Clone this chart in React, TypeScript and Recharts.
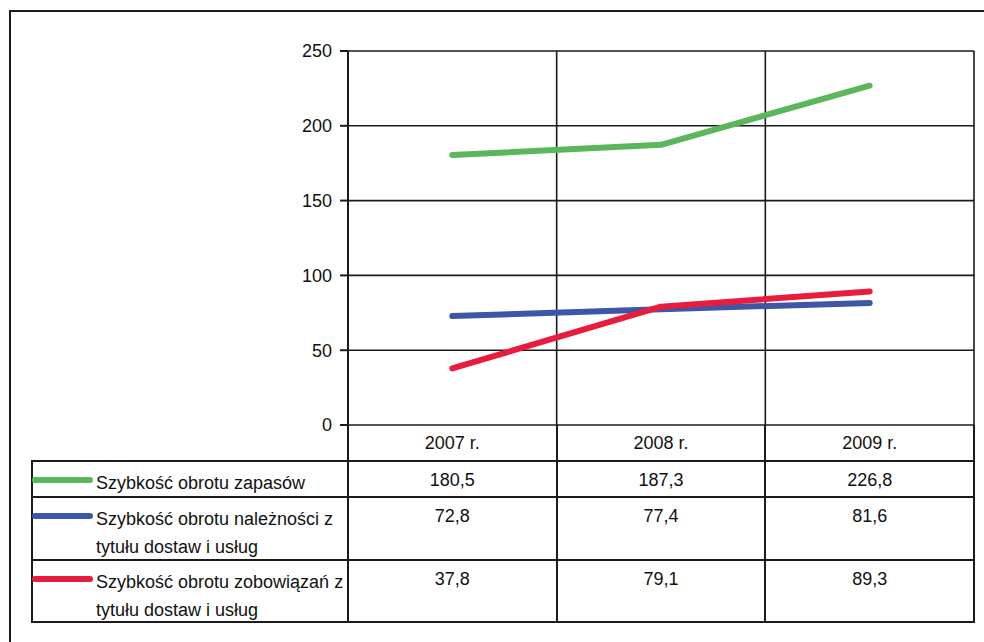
import { LineChart, Line, XAxis, YAxis, CartesianGrid } from "recharts";

const years = ["2007 r.", "2008 r.", "2009 r."];
const zapasy = [180.5, 187.3, 226.8];
const naleznosci = [72.8, 77.4, 81.6];
const zobowiazania = [37.8, 79.1, 89.3];
const yTicks = [0, 50, 100, 150, 200, 250];

const series = [
  { key: "zapasy", lines: ["Szybkość obrotu zapasów"], values: zapasy, color: "#5bb75a" },
  {
    key: "naleznosci",
    lines: ["Szybkość obrotu należności z", "tytułu dostaw i usług"],
    values: naleznosci,
    color: "#3d56a6",
  },
  {
    key: "zobowiazania",
    lines: ["Szybkość obrotu zobowiązań z", "tytułu dostaw i usług"],
    values: zobowiazania,
    color: "#e81c3c",
  },
];

const data = years.map((year, i) => {
  const row: Record<string, string | number> = { year };
  series.forEach((s) => (row[s.key] = s.values[i]));
  return row;
});

// layout
const W = 984;
const H = 642;
const PLOT_L = 348;
const PLOT_R = 974;
const PLOT_T = 51;
const PLOT_B = 425;
const BAND = (PLOT_R - PLOT_L) / years.length;
const TABLE_L = 31;
const HEAD_B = 461;
const ROW_BOTTOMS = [497, 560, 622];
const INK = "#1b1b1b";
const FONT = "'Liberation Sans Narrow', 'Liberation Sans', Arial, sans-serif";

const fmt = (v: number) => v.toFixed(1).replace(".", ",");

const box = (left: number, top: number, width: number, height: number) => ({
  position: "absolute" as const,
  left,
  top,
  width,
  height,
  boxSizing: "border-box" as const,
});

export default function App() {
  const colX = years.map((_, i) => PLOT_L + i * BAND);
  const rowTops = [HEAD_B, ...ROW_BOTTOMS.slice(0, -1)];

  return (
    <div
      style={{
        position: "absolute",
        left: 0,
        top: 0,
        width: W,
        height: H,
        overflow: "hidden",
        background: "#fff",
        fontFamily: FONT,
        color: "#111",
      }}
    >
      {/* outer frame of the scanned figure */}
      <div style={{ ...box(9, 10, 1000, 700), border: `2px solid ${INK}` }} />

      <div style={{ position: "absolute", left: 0, top: 0 }}>
        <LineChart
          width={W}
          height={H}
          data={data}
          margin={{ top: PLOT_T, right: W - PLOT_R, left: PLOT_L - 60, bottom: H - PLOT_B }}
        >
          <CartesianGrid
            stroke={INK}
            strokeWidth={1.6}
            verticalPoints={[1, 2, 3].map((i) => PLOT_L + i * BAND)}
          />
          <XAxis
            dataKey="year"
            hide
            padding={{ left: BAND / 2, right: BAND / 2 }}
          />
          <YAxis
            width={60}
            domain={[0, 250]}
            ticks={yTicks}
            interval={0}
            tickSize={8}
            tickMargin={8}
            axisLine={{ stroke: INK, strokeWidth: 2 }}
            tickLine={{ stroke: INK, strokeWidth: 2 }}
            tick={{ fill: "#111", fontSize: 18, fontFamily: FONT }}
          />
          {series.map((s) => (
            <Line
              key={s.key}
              dataKey={s.key}
              stroke={s.color}
              strokeWidth={6}
              strokeLinecap="round"
              strokeLinejoin="round"
              dot={false}
              activeDot={false}
              isAnimationActive={false}
            />
          ))}
        </LineChart>
      </div>

      {/* header row with years */}
      {years.map((y, i) => (
        <div
          key={y}
          style={{
            ...box(colX[i] - 1, PLOT_B, BAND + (i === years.length - 1 ? 2 : 0), HEAD_B - PLOT_B + 1),
            borderLeft: `2px solid ${INK}`,
            borderRight: i === years.length - 1 ? `2px solid ${INK}` : undefined,
            display: "flex",
            alignItems: "center",
            justifyContent: "center",
            fontSize: 18,
          }}
        >
          {y}
        </div>
      ))}

      {/* data table */}
      <div
        style={{
          ...box(TABLE_L, HEAD_B - 1, PLOT_R - TABLE_L + 1, ROW_BOTTOMS[2] - HEAD_B + 2),
          border: `2px solid ${INK}`,
        }}
      />
      {series.map((s, r) => {
        const top = rowTops[r];
        return (
          <div key={s.key}>
            {r > 0 && (
              <div style={{ ...box(TABLE_L, top - 1, PLOT_R - TABLE_L, 2), background: INK }} />
            )}
            <svg style={{ position: "absolute", left: 31, top: top + 12 }} width={64} height={14}>
              <line x1={4} y1={7} x2={59} y2={7} stroke={s.color} strokeWidth={6} strokeLinecap="round" />
            </svg>
            <div style={{ position: "absolute", left: 96, top: top + 8, fontSize: 18, lineHeight: "28px" }}>
              {s.lines.map((l) => (
                <div key={l} style={{ whiteSpace: "nowrap" }}>
                  {l}
                </div>
              ))}
            </div>
            {s.values.map((v, i) => (
              <div
                key={i}
                style={{
                  ...box(colX[i], top + 5, BAND, 28),
                  textAlign: "center",
                  fontSize: 18,
                  lineHeight: "28px",
                }}
              >
                {fmt(v)}
              </div>
            ))}
          </div>
        );
      })}
      {colX.map((x) => (
        <div key={x} style={{ ...box(x - 1, HEAD_B, 2, ROW_BOTTOMS[2] - HEAD_B), background: INK }} />
      ))}
    </div>
  );
}
